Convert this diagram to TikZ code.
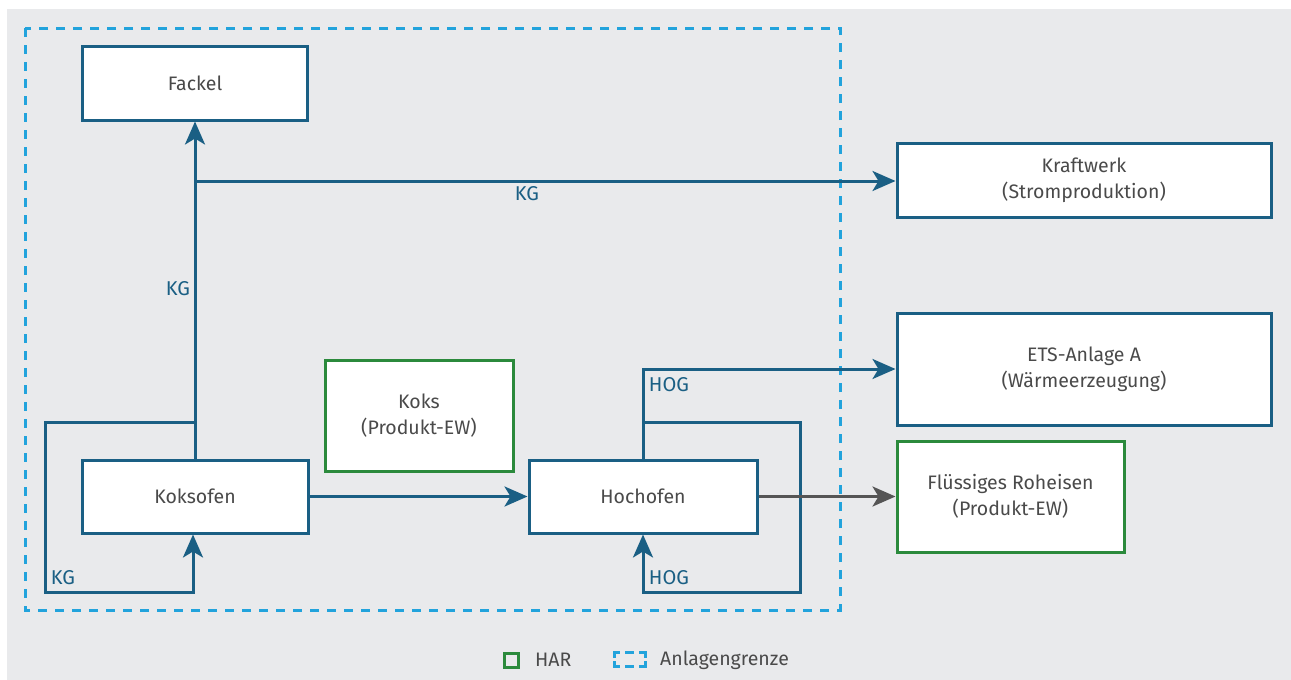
\documentclass[tikz,border=0pt]{standalone}
\usepackage{fontspec}
\setmainfont{Fira Sans}
\usetikzlibrary{arrows.meta}
\definecolor{flowblue}{HTML}{1A5F84}
\definecolor{limitblue}{HTML}{22A3DC}
\definecolor{hargreen}{HTML}{2B8A3C}
\definecolor{txtgrey}{HTML}{4A4A4A}
\definecolor{bggrey}{HTML}{E9EAEC}
\definecolor{flowgrey}{HTML}{555555}
\tikzset{
  unitbox/.style={draw=flowblue, line width=3pt, fill=white, text=txtgrey,
    align=center, font=\fontsize{19.5}{26}\selectfont, inner sep=0pt},
  harbox/.style={unitbox, draw=hargreen},
  flow/.style={draw=flowblue, line width=3pt},
  flowarrow/.style={flow, -{Stealth[length=23pt,width=20pt,inset=6pt]}},
  prodarrow/.style={draw=flowgrey, line width=3pt, -{Stealth[length=23pt,width=20pt,inset=6pt]}},
  flowlabel/.style={text=flowblue, font=\fontsize{20}{24}\selectfont, inner sep=0pt},
  limit/.style={draw=limitblue, line width=3pt, dash pattern=on 9pt off 8pt},
  legendtext/.style={text=txtgrey, font=\fontsize{19.5}{24}\selectfont, inner sep=0pt, anchor=west}
}
\begin{document}
\begin{tikzpicture}[x=1pt,y=-1pt]
\useasboundingbox (0,0) rectangle (1291,680);
\fill[white] (0,0) rectangle (1291,680);
\fill[bggrey] (7,9) rectangle (1291,680);

% installation boundary
\draw[limit] (25,28) rectangle (840,610);

% units
\node[unitbox, minimum width=225pt, minimum height=74pt] (fackel) at (195,83) {Fackel};
\node[unitbox, minimum width=374pt, minimum height=74pt] (kraft) at (1084,180) {Kraftwerk\\(Stromproduktion)};
\node[unitbox, minimum width=374pt, minimum height=112pt] (ets) at (1084,369) {ETS-Anlage A\\(Wärmeerzeugung)};
\node[harbox, minimum width=227pt, minimum height=111pt] (roh) at (1010.5,496.5) {Flüssiges Roheisen\\(Produkt-EW)};
\node[harbox, minimum width=188pt, minimum height=111pt] (koks) at (419,415.5) {Koks\\(Produkt-EW)};
\node[unitbox, minimum width=226pt, minimum height=73pt] (koksofen) at (195,496.5) {Koksofen};
\node[unitbox, minimum width=228pt, minimum height=73pt] (hochofen) at (643,496.5) {Hochofen};

% branch and loop points of the gas routes
\coordinate (kgsplit) at (195,181);
\coordinate (kgloop) at (195,422);
\coordinate (hogsplit) at (643,369);
\coordinate (hogloop) at (643,422);

% coke oven gas
\draw[flowarrow] (koksofen.north) -- (fackel.south);
\draw[flowarrow] (kgsplit) -- (kraft.west |- kgsplit);
\draw[flowarrow] (kgloop) -- (45,422) -- (45,592) -- (193,592) -- (koksofen.south -| 193,0);
\node[flowlabel] (kg1) at (527,194) {KG};
\node[flowlabel] (kg2) at (178,289) {KG};
\node[flowlabel] (kg3) at (63,578) {KG};

% blast furnace gas
\draw[flowarrow] (hochofen.north) -- (hogsplit) -- (ets.west |- hogsplit);
\draw[flowarrow] (hogloop) -- (800,422) -- (800,592) -- (643,592) -- (hochofen.south);
\node[flowlabel] (hog1) at (669,385) {HOG};
\node[flowlabel] (hog2) at (669,578) {HOG};

% product flows
\draw[flowarrow] (koksofen.east) -- (hochofen.west);
\draw[prodarrow] (hochofen.east) -- (roh.west);

% legend
\draw[draw=hargreen, line width=3pt] (504,653) rectangle (518,667);
\node[legendtext] (lhar) at (535,660) {HAR};
\begin{scope}[draw=limitblue, line width=3pt]
  \draw (614,658) -- (614,652) -- (620,652);
  \draw (625,652) -- (634,652);
  \draw (639,652) -- (645,652) -- (645,658);
  \draw (614,661) -- (614,666) -- (620,666);
  \draw (625,666) -- (634,666);
  \draw (639,666) -- (645,666) -- (645,661);
\end{scope}
\node[legendtext] (llimit) at (660,660) {Anlagengrenze};
\end{tikzpicture}
\end{document}
